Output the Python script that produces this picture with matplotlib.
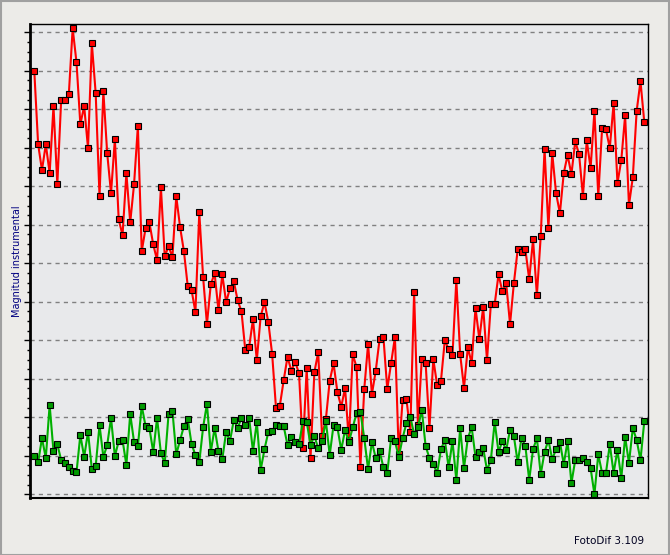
import numpy as np
import matplotlib
matplotlib.use("Agg")
import matplotlib.pyplot as plt
from matplotlib.ticker import MultipleLocator
from matplotlib.patches import Rectangle

# magnitudes (one unit = one grid step, larger = fainter)
variable = [
    1.01, 2.91, 3.58, 2.91, 3.66, 1.92, 3.95, 1.77, 1.77, 1.61,
    -0.10, 0.78, 2.39, 1.92, 3.01, 0.29, 1.58, 4.26, 1.53, 3.14,
    4.18, 2.78, 4.86, 5.27, 3.66, 4.94, 3.95, 2.44, 5.69, 5.09,
    4.94, 5.51, 5.92, 4.03, 5.82, 5.56, 5.84, 4.26, 5.06, 5.69,
    6.60, 6.70, 7.27, 4.68, 6.36, 7.58, 6.55, 6.26, 7.22, 6.29,
    7.01, 6.65, 6.47, 6.96, 7.25, 8.26, 8.18, 7.45, 8.52, 7.38,
    7.01, 7.53, 8.36, 9.76, 9.70, 9.04, 8.43, 8.79, 8.56, 8.86,
    10.80, 8.73, 11.06, 8.83, 8.31, 10.48, 10.05, 9.05, 8.60, 9.34,
    9.73, 9.24, 10.60, 8.36, 8.70, 11.28, 9.27, 8.10, 9.40, 8.79,
    7.97, 7.92, 9.27, 8.60, 7.92, 10.95, 9.55, 9.53, 10.38, 6.75,
    10.20, 8.49, 8.59, 10.28, 8.49, 9.16, 9.05, 8.00, 8.23, 8.39,
    6.44, 8.36, 9.24, 8.18, 8.60, 7.16, 7.97, 7.14, 8.52, 7.06,
    7.06, 6.29, 6.73, 6.52, 7.58, 6.52, 5.64, 5.71, 5.64, 6.42,
    5.38, 6.83, 5.30, 3.04, 5.09, 3.14, 4.18, 4.70, 3.66, 3.19,
    3.69, 2.83, 3.17, 4.26, 2.81, 3.53, 2.05, 4.26, 2.49, 2.52,
    3.01, 1.84, 3.92, 3.32, 2.16, 4.49, 3.77, 2.05, 1.27, 2.34,
]

comparacion = [
    11.01, 11.17, 10.54, 11.06, 9.68, 10.88, 10.70, 11.11, 11.19, 11.30,
    11.40, 11.43, 10.46, 11.03, 10.38, 11.35, 11.27, 10.20, 11.03, 10.72,
    10.02, 11.01, 10.62, 10.59, 11.24, 9.91, 10.64, 10.75, 9.70, 10.23,
    10.28, 10.90, 10.02, 10.93, 11.19, 9.91, 9.83, 10.96, 10.59, 10.23,
    10.04, 10.70, 10.98, 11.17, 10.26, 9.65, 10.90, 10.28, 10.88, 11.09,
    10.38, 10.62, 10.07, 10.28, 10.02, 10.20, 10.02, 10.88, 10.12, 11.37,
    10.83, 10.38, 10.36, 10.20, 10.23, 10.23, 10.72, 10.51, 10.64, 10.70,
    10.10, 10.12, 10.72, 10.49, 10.80, 10.62, 10.10, 10.98, 10.20, 10.26,
    10.85, 10.33, 10.64, 10.26, 9.89, 9.86, 10.54, 11.35, 10.64, 11.06,
    10.88, 11.30, 11.45, 10.54, 10.62, 11.03, 10.54, 10.15, 9.99, 10.43,
    10.26, 9.81, 10.75, 11.06, 11.22, 11.45, 10.83, 10.59, 11.30, 10.62,
    11.63, 10.28, 11.32, 10.54, 10.26, 11.03, 10.90, 10.80, 11.37, 11.11,
    10.12, 10.90, 10.62, 10.85, 10.33, 10.49, 11.17, 10.54, 10.75, 11.63,
    10.83, 10.54, 11.48, 10.90, 10.59, 11.09, 10.83, 10.64, 11.22, 10.62,
    11.71, 11.11, 11.11, 11.06, 11.17, 11.32, 12.00, 10.96, 11.45, 11.45,
    10.70, 11.45, 10.85, 11.58, 10.51, 11.19, 10.28, 10.59, 11.11, 10.10,
]

n = np.arange(len(variable))

fig = plt.figure(figsize=(6.7, 5.55), dpi=100, facecolor="#ecebe8")
ax = fig.add_axes([30 / 670, 1 - 497.7 / 555, 618.3 / 670, 473.4 / 555])
ax.set_facecolor("#e8e9eb")

# variable star (red) drawn first, comparison (green) on top
ax.plot(n, variable, color="#ff0000", lw=1.5, marker="s", ms=5.0,
        mfc="#ff0000", mec="black", mew=0.8, zorder=3)
ax.plot(n, comparacion, color="#00b000", lw=1.5, marker="s", ms=5.0,
        mfc="#009a00", mec="black", mew=0.8, zorder=4)

ax.set_xlim(-1.12, 160.04)
ax.set_ylim(12.088, -0.208)

ax.yaxis.set_major_locator(MultipleLocator(1))
ax.yaxis.set_minor_locator(MultipleLocator(0.25))
ax.set_xticks([])
ax.tick_params(axis="y", which="major", length=4, width=1, labelleft=False)
ax.tick_params(axis="y", which="minor", length=2, width=1)
ax.grid(axis="y", which="major", color="#808080", lw=1, linestyle=(0, (3, 3)))
ax.set_axisbelow(True)

ax.spines["left"].set_linewidth(2)
ax.spines["bottom"].set_linewidth(1.5)
ax.spines["top"].set_linewidth(1)
ax.spines["right"].set_linewidth(1)

fig.text(17 / 670, 1 - 261 / 555, "Magnitud instrumental", rotation=90,
         ha="center", va="center", fontsize=7, color="#000080")
fig.text(644 / 670, 1 - 541 / 555, "FotoDif 3.109", ha="right", va="center",
         fontsize=7.5, color="#000020")

# window frame
fig.patches.append(Rectangle((0.5 / 670, 0.5 / 555), 668.5 / 670, 553.5 / 555,
                             transform=fig.transFigure, fill=False,
                             edgecolor="#a0a0a0", lw=1.5))

fig.savefig("out.png", dpi=100, facecolor=fig.get_facecolor())
